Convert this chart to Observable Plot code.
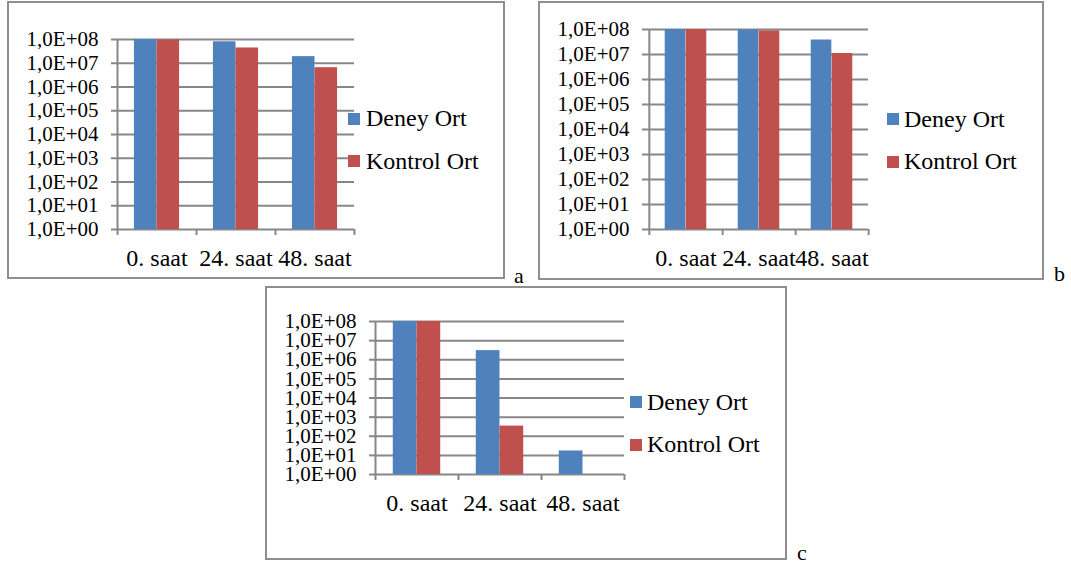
<!DOCTYPE html>
<html>
<head>
<meta charset="utf-8">
<script src="https://cdn.jsdelivr.net/npm/d3@7"></script>
<script src="https://cdn.jsdelivr.net/npm/@observablehq/plot@0.6"></script>
<style>
  html, body { margin: 0; padding: 0; background: #fff; }
  body { width: 1071px; height: 567px; position: relative; overflow: hidden; }
  .box { position: absolute; box-sizing: border-box; border: 2px solid #8f8f8f; }
  .sw { position: absolute; width: 12px; height: 12px; }
  .lt { position: absolute; white-space: nowrap; color: #000; }
  .pl { position: absolute; color: #000; }
</style>
</head>
<body>
<script>
// ---- data ----
const categories = ["0. saat", "24. saat", "48. saat"];
const seriesNames = ["Deney Ort", "Kontrol Ort"];
const seriesColors = ["#4F81BD", "#C0504D"];
const yTicks = [1, 1e1, 1e2, 1e3, 1e4, 1e5, 1e6, 1e7, 1e8];
const yTickLabels = ["1,0E+00", "1,0E+01", "1,0E+02", "1,0E+03", "1,0E+04", "1,0E+05", "1,0E+06", "1,0E+07", "1,0E+08"];

const aDeney   = [1.0e8, 8.0e7, 1.9e7];
const aKontrol = [9.6e7, 4.4e7, 6.5e6];
const bDeney   = [1.0e8, 9.5e7, 3.8e7];
const bKontrol = [1.0e8, 8.8e7, 1.1e7];
const cDeney   = [1.0e8, 3.0e6, 17];
const cKontrol = [1.0e8, 340, null];

const panelLabels = ["a", "b", "c"];

// ---- drawing ----
const GRID = "#878787";
const FAM = "Liberation Serif";
const FONT = `'${FAM}', monospace`;

function makeChart(cfg, deney, kontrol) {
  const rows = [];
  categories.forEach((c, i) => {
    rows.push({c, s: seriesNames[0], v: deney[i]});
    rows.push({c, s: seriesNames[1], v: kontrol[i]});
  });
  const bw = (cfg.width - cfg.ml - cfg.mr) / categories.length;
  const bar = bw / 3.5;
  const pad = bar * 0.75;
  const fmt = d => yTickLabels[yTicks.indexOf(d)];
  const svg = Plot.plot({
    width: cfg.width, height: cfg.height,
    marginLeft: cfg.ml, marginRight: cfg.mr, marginTop: cfg.mt, marginBottom: cfg.mb,
    style: {fontFamily: FONT, fontSize: "21px", color: "#000", background: "transparent", overflow: "visible"},
    x: {domain: categories, padding: 0, axis: null, label: null},
    y: {type: "log", domain: [1, 1e8], axis: null, label: null},
    marks: [
      Plot.ruleY(yTicks, {y: d => d, stroke: GRID, strokeWidth: 2}),
      Plot.barY(rows.filter(d => d.s === seriesNames[0] && d.v != null),
        {x: "c", y1: 1, y2: "v", fill: seriesColors[0], insetLeft: pad, insetRight: pad + bar}),
      Plot.barY(rows.filter(d => d.s === seriesNames[1] && d.v != null),
        {x: "c", y1: 1, y2: "v", fill: seriesColors[1], insetLeft: pad + bar, insetRight: pad}),
      Plot.ruleX(categories.slice(0, 1), {x: d => d, dx: -bw / 2, y1: 1e8, y2: 1, insetBottom: -6, stroke: GRID, strokeWidth: 2}),
      Plot.ruleX(categories, {x: d => d, dx: bw / 2, y1: 1, y2: 1, insetBottom: -6, stroke: GRID, strokeWidth: 2}),
      Plot.axisY({ticks: yTicks, tickFormat: fmt, tickSize: 6, tickPadding: 13, stroke: GRID, strokeWidth: 2, fill: "#000", fontSize: 21, fontFamily: FONT, label: null}),
      Plot.axisX({tickSize: 0, tickPadding: cfg.xPad, fill: "#000", fontSize: 24, fontFamily: FONT, label: null})
    ]
  });
  svg.style.position = "absolute";
  svg.style.left = cfg.left + "px";
  svg.style.top = cfg.top + "px";
  return svg;
}

function addDiv(cls, css, text, size) {
  const d = document.createElement("div");
  d.className = cls;
  Object.assign(d.style, css);
  if (size) d.style.font = `${size}px/${size}px ${FONT}`;
  if (text != null) d.textContent = text;
  document.body.appendChild(d);
  return d;
}

const panels = [
  {box: {left: 7, top: 1, width: 498, height: 278},
   plot: {left: 8, top: 2, width: 496, height: 276, ml: 109, mr: 150, mt: 37, mb: 49, xPad: 19},
   legend: {sx: 348, sy: [113, 155], tx: 366, ty: [106, 149]},
   label: {x: 514, y: 265},
   deney: aDeney, kontrol: aKontrol},
  {box: {left: 538, top: 1, width: 506, height: 279},
   plot: {left: 539, top: 2, width: 504, height: 277, ml: 109, mr: 175, mt: 27, mb: 50, xPad: 19},
   legend: {sx: 887, sy: [113, 156], tx: 904, ty: [107, 149]},
   label: {x: 1054, y: 263},
   deney: bDeney, kontrol: bKontrol},
  {box: {left: 265, top: 286, width: 522, height: 274},
   plot: {left: 266, top: 287, width: 520, height: 272, ml: 109, mr: 162, mt: 34, mb: 85, xPad: 19},
   legend: {sx: 630, sy: [396, 439], tx: 647, ty: [390, 432]},
   label: {x: 797, y: 542},
   deney: cDeney, kontrol: cKontrol}
];

panels.forEach((p, k) => {
  addDiv("box", {left: p.box.left + "px", top: p.box.top + "px", width: p.box.width + "px", height: p.box.height + "px"});
  document.body.appendChild(makeChart(p.plot, p.deney, p.kontrol));
  seriesNames.forEach((name, j) => {
    addDiv("sw", {left: p.legend.sx + "px", top: p.legend.sy[j] + "px", background: seriesColors[j]});
    addDiv("lt", {left: p.legend.tx + "px", top: p.legend.ty[j] + "px"}, name, 24);
  });
  addDiv("pl", {left: p.label.x + "px", top: p.label.y + "px"}, panelLabels[k], 22);
});
</script>
</body>
</html>
